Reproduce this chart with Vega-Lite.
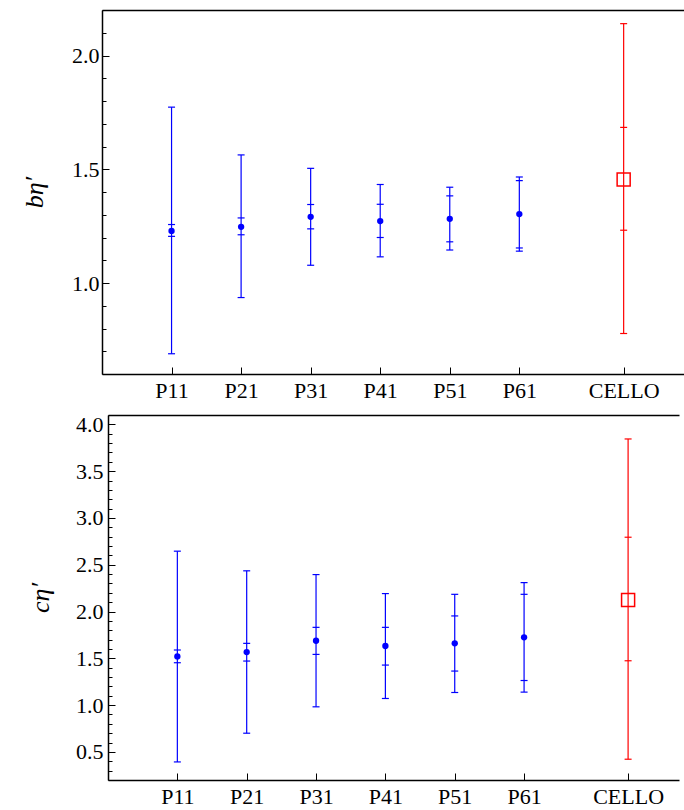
{
  "$schema": "https://vega.github.io/schema/vega-lite/v6.json",
  "background": "white",
  "padding": {"left": 21, "top": 9, "right": 0, "bottom": 31},
  "bounds": "flush",
  "center": true,
  "spacing": 41,
  "config": {"view": {"stroke": null}},
  "datasets": {
    "b": [
      {"label": "P11", "x": 1, "v": 1.229, "lo1": 1.205, "hi1": 1.257, "lo2": 0.689, "hi2": 1.773, "grp": "P"},
      {"label": "P21", "x": 2, "v": 1.247, "lo1": 1.212, "hi1": 1.286, "lo2": 0.936, "hi2": 1.563, "grp": "P"},
      {"label": "P31", "x": 3, "v": 1.291, "lo1": 1.238, "hi1": 1.345, "lo2": 1.078, "hi2": 1.504, "grp": "P"},
      {"label": "P41", "x": 4, "v": 1.272, "lo1": 1.200, "hi1": 1.346, "lo2": 1.115, "hi2": 1.433, "grp": "P"},
      {"label": "P51", "x": 5, "v": 1.282, "lo1": 1.181, "hi1": 1.383, "lo2": 1.145, "hi2": 1.421, "grp": "P"},
      {"label": "P61", "x": 6, "v": 1.303, "lo1": 1.154, "hi1": 1.450, "lo2": 1.140, "hi2": 1.466, "grp": "P"},
      {"label": "CELLO", "x": 7.5, "v": 1.455, "lo1": 1.232, "hi1": 1.684, "lo2": 0.778, "hi2": 2.140, "grp": "CELLO"}
    ],
    "c": [
      {"label": "P11", "x": 1, "v": 1.520, "lo1": 1.453, "hi1": 1.589, "lo2": 0.393, "hi2": 2.645, "grp": "P"},
      {"label": "P21", "x": 2, "v": 1.567, "lo1": 1.471, "hi1": 1.660, "lo2": 0.700, "hi2": 2.435, "grp": "P"},
      {"label": "P31", "x": 3, "v": 1.688, "lo1": 1.542, "hi1": 1.831, "lo2": 0.982, "hi2": 2.395, "grp": "P"},
      {"label": "P41", "x": 4, "v": 1.632, "lo1": 1.428, "hi1": 1.831, "lo2": 1.071, "hi2": 2.192, "grp": "P"},
      {"label": "P51", "x": 5, "v": 1.660, "lo1": 1.364, "hi1": 1.953, "lo2": 1.135, "hi2": 2.184, "grp": "P"},
      {"label": "P61", "x": 6, "v": 1.724, "lo1": 1.263, "hi1": 2.184, "lo2": 1.139, "hi2": 2.309, "grp": "P"},
      {"label": "CELLO", "x": 7.5, "v": 2.124, "lo1": 1.474, "hi1": 2.794, "lo2": 0.422, "hi2": 3.844, "grp": "CELLO"}
    ]
  },
  "vconcat": [
    {
      "width": 583,
      "height": 364,
      "data": {"name": "b"},
      "resolve": {"axis": {"x": "independent", "y": "independent"}},
      "layer": [
        {
          "mark": {"type": "rule", "strokeWidth": 1.2},
          "encoding": {
            "x": {"field": "x", "type": "quantitative", "scale": {"domain": [0, 8.382], "nice": false, "zero": false},
              "axis": {"orient": "bottom", "values": [1, 2, 3, 4, 5, 6, 7.5], "labelExpr": "datum.value == 7.5 ? 'CELLO' : 'P' + datum.value + '1'",
                "title": null, "grid": false, "tickSize": -7, "tickColor": "black", "tickWidth": 1, "domainColor": "black", "domainWidth": 1.5,
                "labelFont": "Liberation Serif", "labelFontSize": 22, "labelColor": "black", "labelPadding": 13, "labelFlush": false, "labelOverlap": false}},
            "y": {"field": "lo2", "type": "quantitative", "scale": {"domain": [0.6, 2.2], "nice": false, "zero": false},
              "axis": {"orient": "left", "values": [1.0, 1.5, 2.0], "format": ".1f",
                "tickSize": -7, "tickColor": "black", "tickWidth": 1, "domainColor": "black", "domainWidth": 1.5, "grid": false,
                "labelFont": "Liberation Serif", "labelFontSize": 22, "labelColor": "black", "labelPadding": 10, "labelOverlap": false, "labelFlush": false,
                "title": "bη′", "titleFont": "Liberation Serif", "titleFontStyle": "italic", "titleFontWeight": "normal", "titleFontSize": 26, "titleColor": "black", "titlePadding": 24}},
            "y2": {"field": "hi2"},
            "color": {"field": "grp", "type": "nominal", "scale": {"domain": ["P", "CELLO"], "range": ["#0000ff", "#ff0000"]}, "legend": null}
          }
        },
        {
          "transform": [{"fold": ["lo1", "hi1", "lo2", "hi2"], "as": ["end", "val"]}],
          "mark": {"type": "tick", "orient": "horizontal", "size": 7, "thickness": 1.2, "opacity": 1},
          "encoding": {
            "x": {"field": "x", "type": "quantitative", "axis": null},
            "y": {"field": "val", "type": "quantitative",
              "axis": {"orient": "left", "values": [0.6, 0.7, 0.8, 0.9, 1.1, 1.2, 1.3, 1.4, 1.6, 1.7, 1.8, 1.9, 2.1, 2.2],
                "labels": false, "domain": false, "grid": false, "title": null, "tickSize": -4, "tickColor": "black", "tickWidth": 1}},
            "color": {"field": "grp", "type": "nominal", "legend": null}
          }
        },
        {
          "transform": [{"filter": "datum.grp == 'P'"}],
          "mark": {"type": "point", "shape": "circle", "filled": true, "size": 40, "opacity": 1},
          "encoding": {
            "x": {"field": "x", "type": "quantitative", "axis": null},
            "y": {"field": "v", "type": "quantitative", "axis": null},
            "color": {"field": "grp", "type": "nominal", "legend": null}
          }
        },
        {
          "transform": [{"filter": "datum.grp == 'CELLO'"}],
          "mark": {"type": "point", "shape": "square", "filled": false, "size": 170, "strokeWidth": 1.5, "opacity": 1},
          "encoding": {
            "x": {"field": "x", "type": "quantitative", "axis": null},
            "y": {"field": "v", "type": "quantitative", "axis": null},
            "color": {"field": "grp", "type": "nominal", "legend": null}
          }
        },
        {
          "mark": {"type": "rule", "opacity": 0},
          "encoding": {
            "x": {"field": "x", "type": "quantitative",
              "axis": {"orient": "top", "labels": false, "ticks": false, "title": null, "grid": false, "domainColor": "black", "domainWidth": 1.5}}
          }
        }
      ]
    },
    {
      "width": 571,
      "height": 365,
      "data": {"name": "c"},
      "resolve": {"axis": {"x": "independent", "y": "independent"}},
      "layer": [
        {
          "mark": {"type": "rule", "strokeWidth": 1.2},
          "encoding": {
            "x": {"field": "x", "type": "quantitative", "scale": {"domain": [0, 8.234], "nice": false, "zero": false},
              "axis": {"orient": "bottom", "values": [1, 2, 3, 4, 5, 6, 7.5], "labelExpr": "datum.value == 7.5 ? 'CELLO' : 'P' + datum.value + '1'",
                "title": null, "grid": false, "tickSize": -7, "tickColor": "black", "tickWidth": 1, "domainColor": "black", "domainWidth": 1.5,
                "labelFont": "Liberation Serif", "labelFontSize": 22, "labelColor": "black", "labelPadding": 13, "labelFlush": false, "labelOverlap": false}},
            "y": {"field": "lo2", "type": "quantitative", "scale": {"domain": [0.2, 4.1], "nice": false, "zero": false},
              "axis": {"orient": "left", "values": [0.5, 1.0, 1.5, 2.0, 2.5, 3.0, 3.5, 4.0], "format": ".1f",
                "tickSize": -7, "tickColor": "black", "tickWidth": 1, "domainColor": "black", "domainWidth": 1.5, "grid": false,
                "labelFont": "Liberation Serif", "labelFontSize": 22, "labelColor": "black", "labelPadding": 12, "labelOverlap": false, "labelFlush": false,
                "title": "cη′", "titleFont": "Liberation Serif", "titleFontStyle": "italic", "titleFontWeight": "normal", "titleFontSize": 26, "titleColor": "black", "titlePadding": 22}},
            "y2": {"field": "hi2"},
            "color": {"field": "grp", "type": "nominal", "scale": {"domain": ["P", "CELLO"], "range": ["#0000ff", "#ff0000"]}, "legend": null}
          }
        },
        {
          "transform": [{"fold": ["lo1", "hi1", "lo2", "hi2"], "as": ["end", "val"]}],
          "mark": {"type": "tick", "orient": "horizontal", "size": 7, "thickness": 1.2, "opacity": 1},
          "encoding": {
            "x": {"field": "x", "type": "quantitative", "axis": null},
            "y": {"field": "val", "type": "quantitative",
              "axis": {"orient": "left", "values": [0.2, 0.3, 0.4, 0.6, 0.7, 0.8, 0.9, 1.1, 1.2, 1.3, 1.4, 1.6, 1.7, 1.8, 1.9, 2.1, 2.2, 2.3, 2.4, 2.6, 2.7, 2.8, 2.9, 3.1, 3.2, 3.3, 3.4, 3.6, 3.7, 3.8, 3.9, 4.1],
                "labels": false, "domain": false, "grid": false, "title": null, "tickSize": -4, "tickColor": "black", "tickWidth": 1}},
            "color": {"field": "grp", "type": "nominal", "legend": null}
          }
        },
        {
          "transform": [{"filter": "datum.grp == 'P'"}],
          "mark": {"type": "point", "shape": "circle", "filled": true, "size": 40, "opacity": 1},
          "encoding": {
            "x": {"field": "x", "type": "quantitative", "axis": null},
            "y": {"field": "v", "type": "quantitative", "axis": null},
            "color": {"field": "grp", "type": "nominal", "legend": null}
          }
        },
        {
          "transform": [{"filter": "datum.grp == 'CELLO'"}],
          "mark": {"type": "point", "shape": "square", "filled": false, "size": 170, "strokeWidth": 1.5, "opacity": 1},
          "encoding": {
            "x": {"field": "x", "type": "quantitative", "axis": null},
            "y": {"field": "v", "type": "quantitative", "axis": null},
            "color": {"field": "grp", "type": "nominal", "legend": null}
          }
        },
        {
          "mark": {"type": "rule", "opacity": 0},
          "encoding": {
            "x": {"field": "x", "type": "quantitative",
              "axis": {"orient": "top", "labels": false, "ticks": false, "title": null, "grid": false, "domainColor": "black", "domainWidth": 1.5}}
          }
        }
      ]
    }
  ]
}
